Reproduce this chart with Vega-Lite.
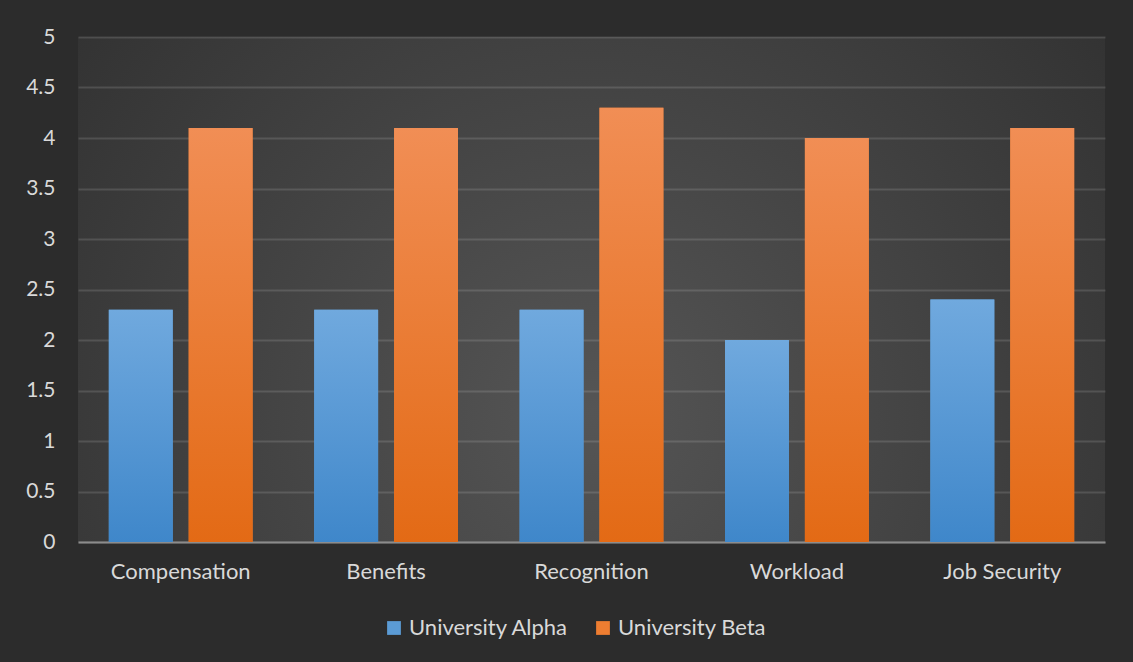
{
  "$schema": "https://vega.github.io/schema/vega-lite/v6.json",
  "width": 1027,
  "height": 505,
  "autosize": {"type": "none"},
  "padding": {"left": 78, "top": 37, "right": 28, "bottom": 120},
  "background": "#2c2c2c",
  "config": {
    "view": {
      "stroke": null,
      "fill": {
        "gradient": "radial",
        "x1": 0.5, "y1": 0.62, "r1": 0,
        "x2": 0.5, "y2": 0.62, "r2": 0.75,
        "stops": [
          {"offset": 0, "color": "#555555"},
          {"offset": 1, "color": "#2c2c2c"}
        ]
      }
    },
    "font": "Lato",
    "axis": {"labelFont": "Lato", "labelColor": "#d9d9d9", "labelFontSize": 22}
  },
  "data": {
    "values": [
      {"category": "Compensation", "school": "University Alpha", "score": 2.3},
      {"category": "Compensation", "school": "University Beta", "score": 4.1},
      {"category": "Benefits", "school": "University Alpha", "score": 2.3},
      {"category": "Benefits", "school": "University Beta", "score": 4.1},
      {"category": "Recognition", "school": "University Alpha", "score": 2.3},
      {"category": "Recognition", "school": "University Beta", "score": 4.3},
      {"category": "Workload", "school": "University Alpha", "score": 2.0},
      {"category": "Workload", "school": "University Beta", "score": 4.0},
      {"category": "Job Security", "school": "University Alpha", "score": 2.4},
      {"category": "Job Security", "school": "University Beta", "score": 4.1}
    ]
  },
  "encoding": {
    "x": {
      "field": "category", "type": "nominal",
      "sort": ["Compensation", "Benefits", "Recognition", "Workload", "Job Security"],
      "scale": {"paddingInner": 0.3, "paddingOuter": 0.15},
      "axis": {
        "title": null, "labelAngle": 0, "ticks": false,
        "domain": true, "domainColor": "#8c8c8c", "domainWidth": 2,
        "labelPadding": 19, "grid": false
      }
    },
    "xOffset": {
      "field": "school", "type": "nominal",
      "scale": {"paddingInner": 0.2, "paddingOuter": 0}
    },
    "y": {
      "field": "score", "type": "quantitative",
      "scale": {"domain": [0, 5]},
      "axis": {
        "title": null, "values": [0,0.5,1,1.5,2,2.5,3,3.5,4,4.5,5],
        "format": "~g", "labelOverlap": false, "labelFontSize": 21,
        "ticks": false, "domain": false,
        "grid": true, "gridColor": "#ffffff", "gridOpacity": 0.13, "gridWidth": 2,
        "labelPadding": 23
      }
    }
  },
  "layer": [
    {
      "mark": {"type": "bar"},
      "encoding": {
        "color": {
          "field": "school", "type": "nominal",
          "scale": {"domain": ["University Alpha", "University Beta"], "range": ["#5b9bd5", "#ed7d31"]},
          "legend": {
            "title": null, "orient": "none", "direction": "horizontal",
            "legendX": 305, "legendY": 580,
            "symbolType": "square", "symbolSize": 190, "symbolStrokeWidth": 0,
            "labelFont": "Lato", "labelFontSize": 22, "labelColor": "#d9d9d9",
            "labelOffset": 4, "columnPadding": 23
          }
        }
      }
    },
    {
      "mark": {"type": "bar"},
      "encoding": {
        "fill": {
          "condition": {
            "test": "datum.school === 'University Alpha'",
            "value": {
              "gradient": "linear", "x1": 0, "y1": 0, "x2": 0, "y2": 1,
              "stops": [{"offset": 0, "color": "#70a9de"}, {"offset": 1, "color": "#3f87ca"}]
            }
          },
          "value": {
            "gradient": "linear", "x1": 0, "y1": 0, "x2": 0, "y2": 1,
            "stops": [{"offset": 0, "color": "#f18e55"}, {"offset": 1, "color": "#e36a15"}]
          }
        }
      }
    }
  ]
}
